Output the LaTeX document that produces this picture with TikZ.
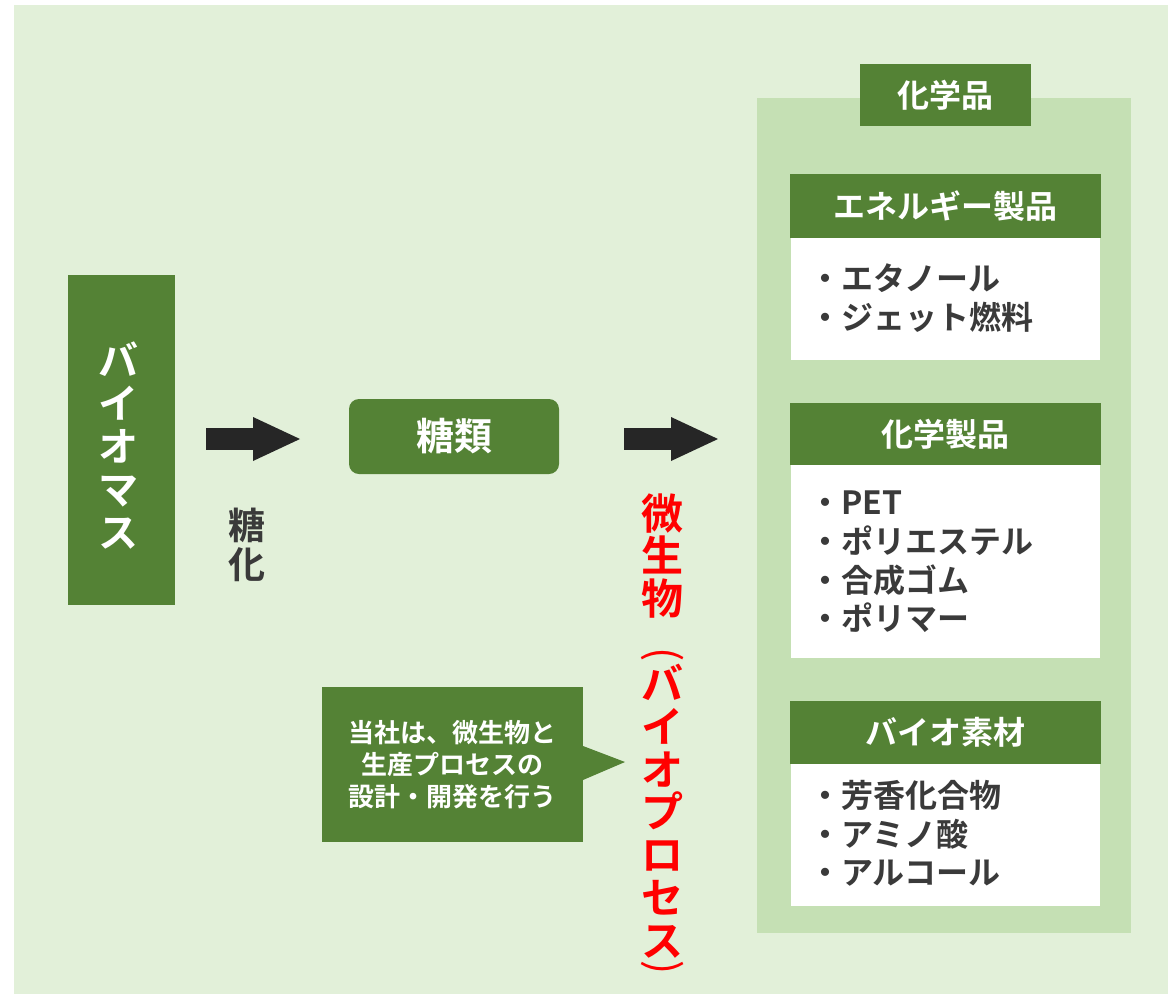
\documentclass[tikz,border=0pt]{standalone}
\usepackage{fontspec}
\setmainfont{Noto Sans CJK JP}[BoldFont={Noto Sans CJK JP Bold}]
\usetikzlibrary{arrows.meta}
\definecolor{bgc}{HTML}{E2F0D9}
\definecolor{panelc}{HTML}{C5E0B4}
\definecolor{dgreen}{HTML}{548235}
\definecolor{txtc}{HTML}{3A3A3A}
\definecolor{arrowc}{HTML}{262626}
\definecolor{redc}{HTML}{FF0000}
\begin{document}
\begin{tikzpicture}[x=1pt,y=-1pt,
  gbox/.style={fill=dgreen, draw=none, inner sep=0pt, outer sep=0pt},
  wbox/.style={fill=white, draw=none, inner sep=0pt, outer sep=0pt},
  hdr/.style={text=white, font=\bfseries\fontsize{32}{36}\selectfont},
  item/.style={anchor=base west, inner sep=0pt, text=txtc, font=\bfseries\fontsize{32}{36}\selectfont},
  vchar/.style={anchor=base, inner sep=0pt},
  biotxt/.style={vchar, text=white, font=\bfseries\fontsize{40}{44}\selectfont},
  redtxt/.style={vchar, text=redc, font=\bfseries\fontsize{42}{46}\selectfont},
  redparen/.style={inner sep=0pt, anchor=center, rotate=-90, text=redc, font=\mdseries\fontsize{42}{46}\selectfont},
  grtxt/.style={vchar, text=txtc, font=\bfseries\fontsize{37}{40}\selectfont},
  blockarr/.style={draw=arrowc, line width=22pt, -{Triangle[length=47pt,width=44pt,line width=0pt]}}
]
\useasboundingbox (0,0) rectangle (1168,994);
\fill[bgc] (14,5) rectangle (1168,994);

% biomass
\node[gbox, minimum width=107pt, minimum height=330pt] (bio) at (121.5,440) {};
\foreach \c [count=\i from 0] in {バ,イ,オ,マ,ス}
  \node[biotxt] (bio\i) at (118,{375.2+43*\i}) {\c};

% sugar
\node[gbox, rounded corners=10pt, minimum width=210pt, minimum height=75pt,
      text=white, font=\bfseries\fontsize{38}{42}\selectfont] (sugar) at (454,436.5) {糖類};

% saccharification label
\node[grtxt] (sac1) at (247,539.5) {糖};
\node[grtxt] (sac2) at (247,578) {化};

% panel
\node[fill=panelc, inner sep=0pt, outer sep=0pt, minimum width=374pt, minimum height=835pt] (panel) at (944,515.5) {};
\node[gbox, hdr, minimum width=171pt, minimum height=62pt] (chem) at (945.5,95) {化学品};

% arrows
\coordinate (ay) at (0,439);
\draw[blockarr, shorten <=31pt, shorten >=49pt] (bio.east |- ay) -- (sugar.west |- ay);
\draw[blockarr, shorten <=65pt, shorten >=39pt] (sugar.east |- ay) -- (panel.west |- ay);

% sub box 1
\node[gbox, hdr, minimum width=311pt, minimum height=64pt] (h1) at (945.5,206) {エネルギー製品};
\node[wbox, minimum width=309pt, minimum height=122pt] (w1) at (945.5,299) {};
\node[item] (i11) at (809,290) {・エタノール};
\node[item] (i12) at (809,329) {・ジェット燃料};

% sub box 2
\node[gbox, hdr, minimum width=311pt, minimum height=62pt] (h2) at (945.5,434) {化学製品};
\node[wbox, minimum width=309pt, minimum height=193pt] (w2) at (945.5,561.5) {};
\node[item] (i21) at (809,514) {・PET};
\node[item] (i22) at (809,553) {・ポリエステル};
\node[item] (i23) at (809,592) {・合成ゴム};
\node[item] (i24) at (809,630) {・ポリマー};

% sub box 3
\node[gbox, hdr, minimum width=311pt, minimum height=63pt] (h3) at (945.5,732.5) {バイオ素材};
\node[wbox, minimum width=309pt, minimum height=142pt] (w3) at (945.5,835) {};
\node[item] (i31) at (809,807) {・芳香化合物};
\node[item] (i32) at (809,846) {・アミノ酸};
\node[item] (i33) at (809,884) {・アルコール};

% red vertical text
\foreach \c [count=\i from 0] in {微,生,物}
  \node[redtxt] (r\i) at (662.5,{529+42.7*\i}) {\c};
\foreach \c [count=\i from 4] in {バ,イ,オ,プ,ロ,セ,ス}
  \node[redtxt] (r\i) at (662.5,{529+42.7*\i}) {\c};
\node[redparen] (ropen) at (662.5,655) {(};
\node[redparen] (rclose) at (662.5,967.5) {)};

% callout
\node[gbox, minimum width=261pt, minimum height=155pt, text=white, align=center,
      font=\bfseries\fontsize{26}{32}\selectfont] (call) at (452.5,764.5)
      {当社は、微生物と\\生産プロセスの\\設計・開発を行う};
\fill[dgreen] ([yshift=-15.5pt]call.east) -- ([xshift=42pt,yshift=2.5pt]call.east) -- ([yshift=18.5pt]call.east) -- cycle;
\end{tikzpicture}
\end{document}
